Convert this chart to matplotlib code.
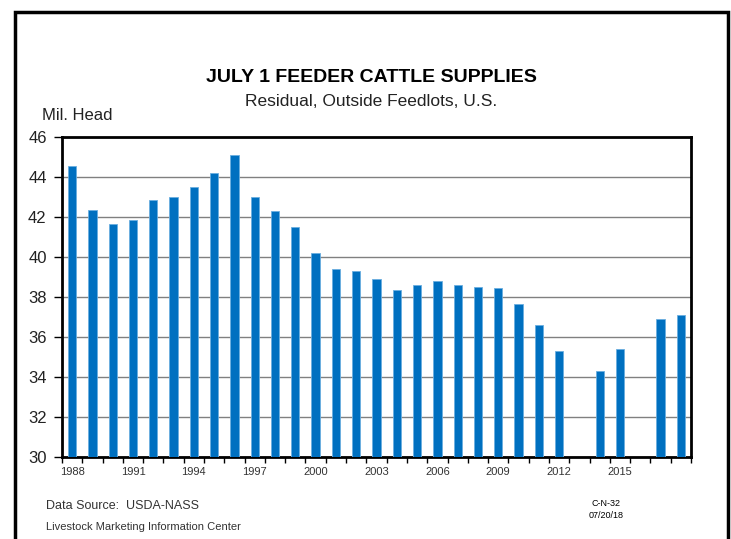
import numpy as np
import matplotlib.pyplot as plt
from matplotlib.patches import Rectangle

plt.rcParams['font.family'] = ['Liberation Sans', 'DejaVu Sans']

# July 1 feeder cattle supplies outside feedlots, million head (2013, 2016 not shown)
years = list(range(1988, 2019))
supplies = [44.55, 42.35, 41.63, 41.83, 42.87, 43.0, 43.48, 44.18, 45.1, 42.98,
            42.3, 41.5, 40.18, 39.38, 39.28, 38.88, 38.33, 38.58, 38.78, 38.58,
            38.48, 38.43, 37.63, 36.58, 35.28, np.nan, 34.28, 35.4, np.nan, 36.88,
            37.08]
label_years = [1988, 1991, 1994, 1997, 2000, 2003, 2006, 2009, 2012, 2015]
y_ticks = [30, 32, 34, 36, 38, 40, 42, 44, 46]

fig = plt.figure(figsize=(7.31, 5.39), dpi=100)
ax = fig.add_axes([62/731, 1 - 457/539, 629/731, 320/539])

x = np.arange(len(years))
ax.bar(x, supplies, width=0.41, color='#0070C0', edgecolor='#6AAEE0',
       linewidth=0.6, zorder=3)

ax.set_xlim(-0.5, len(years) - 0.5)
ax.set_ylim(30, 46)
ax.set_yticks(y_ticks)
ax.set_yticklabels([str(v) for v in y_ticks], fontsize=12, color='#222222')
ax.yaxis.grid(True, color='#808080', linewidth=1.0, zorder=0)

ax.set_xticks([years.index(yr) for yr in label_years])
ax.set_xticklabels([str(yr) for yr in label_years], fontsize=8, color='#333333')
ax.tick_params(axis='x', length=0, pad=7)
ax.set_xticks(np.arange(-0.5, len(years), 1), minor=True)
ax.tick_params(axis='x', which='minor', length=4, width=1, direction='out')
ax.tick_params(axis='y', length=6, width=1, direction='out', pad=5)

for s in ax.spines.values():
    s.set_linewidth(2)
    s.set_color('black')

fig.text(371/731, 1 - 78/539, 'JULY 1 FEEDER CATTLE SUPPLIES', ha='center',
         va='center', fontsize=14, fontweight='bold')
fig.text(371/731, 1 - 102/539, 'Residual, Outside Feedlots, U.S.', ha='center',
         va='center', fontsize=12.5, color='#222222')
fig.text(42/731, 1 - 116/539, 'Mil. Head', ha='left', va='center', fontsize=12,
         color='#222222')
fig.text(46/731, 1 - 506/539, 'Data Source:  USDA-NASS', ha='left', va='center',
         fontsize=9, color='#333333')
fig.text(46/731, 1 - 527/539, 'Livestock Marketing Information Center', ha='left',
         va='center', fontsize=8, color='#333333')
fig.text(606/731, 1 - 504/539, 'C-N-32', ha='center', va='center', fontsize=6.5)
fig.text(606/731, 1 - 515/539, '07/20/18', ha='center', va='center', fontsize=6.5)

# outer frame
frame = Rectangle((14.5/731, -0.05), (727.5 - 14.5)/731, 1.05 - 12/539,
                  transform=fig.transFigure, fill=False, edgecolor='black',
                  linewidth=2.5)
fig.patches.append(frame)

fig.savefig('out.png', dpi=100)
